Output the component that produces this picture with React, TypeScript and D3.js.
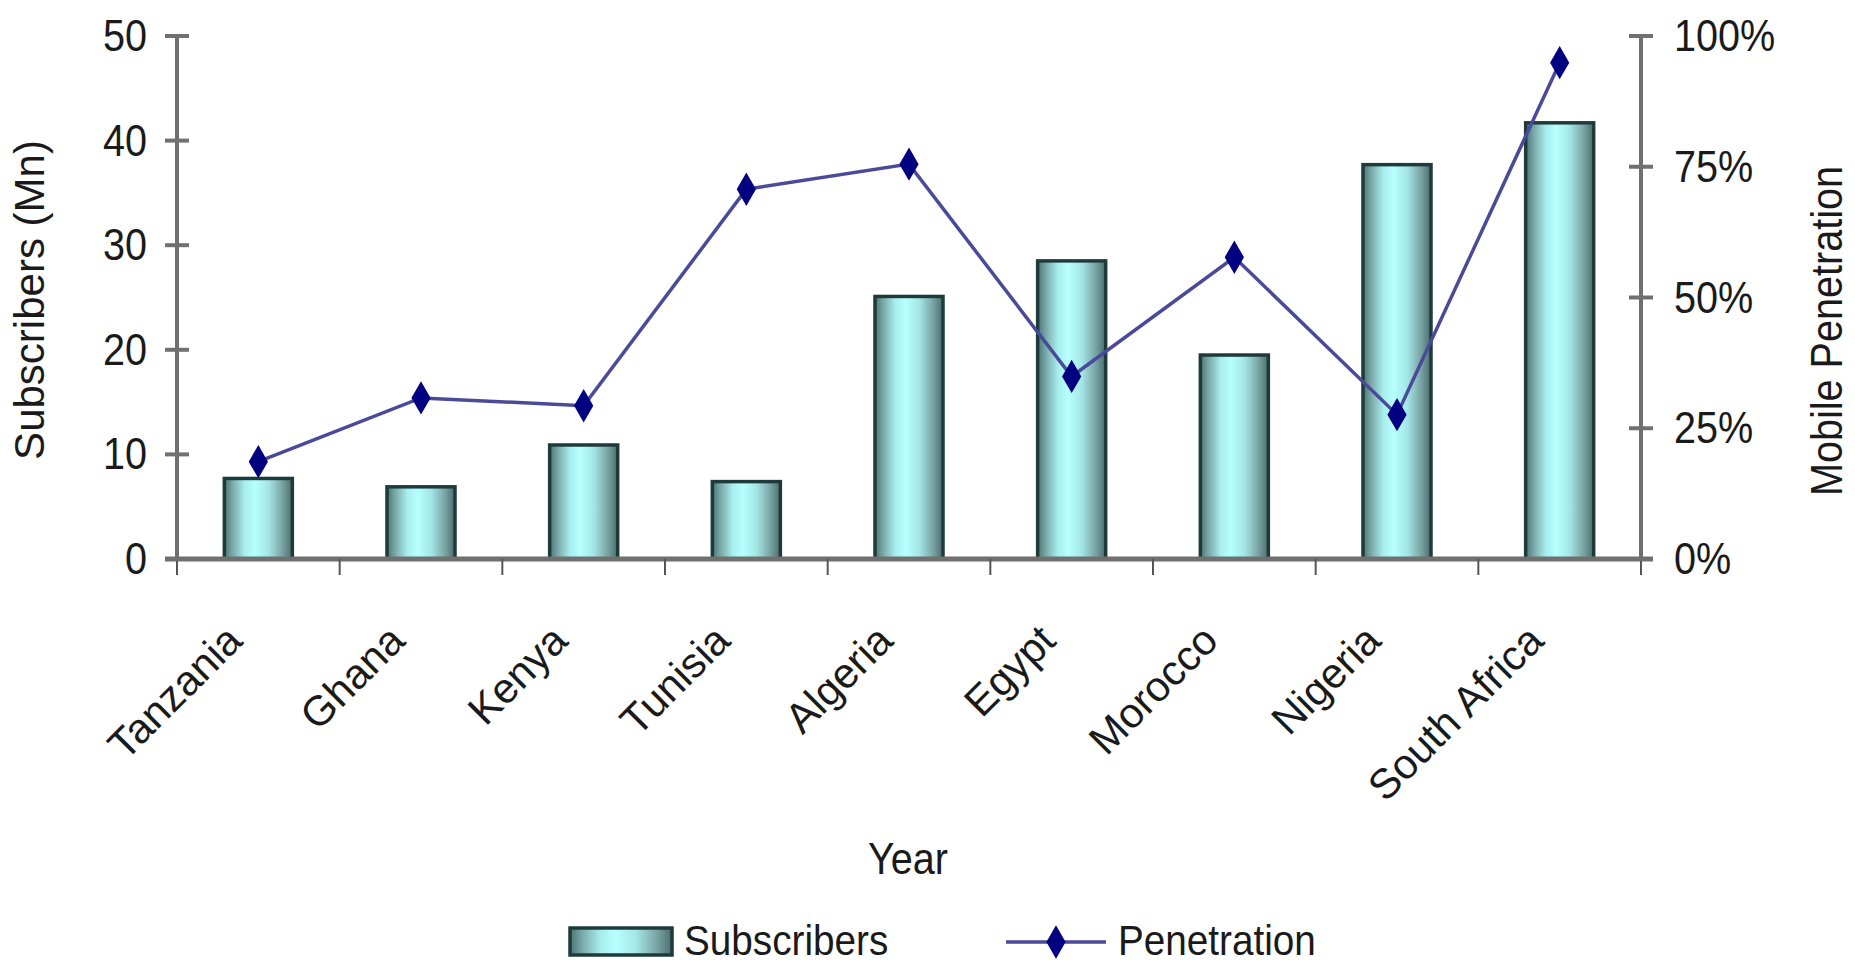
import React from "react";
import * as d3 from "d3";

const categories = ["Tanzania", "Ghana", "Kenya", "Tunisia", "Algeria", "Egypt", "Morocco", "Nigeria", "South Africa"];
const subscribers = [7.7, 6.9, 10.9, 7.4, 25.1, 28.5, 19.5, 37.7, 41.7];
const penetration = [18.6, 30.8, 29.3, 70.7, 75.5, 34.9, 57.7, 27.6, 94.9];
const leftTicks = [0, 10, 20, 30, 40, 50];
const rightTicks = [0, 25, 50, 75, 100];

const W = 1855;
const H = 966;
const left = 177;
const right = 1641;
const top = 36;
const bottom = 559;
const FONT = "'Liberation Sans', Arial, sans-serif";
const SX = 0.9;

function CText({ x, y, rot = 0, anchor = "start", size = 44, sx = SX, children }: any) {
  return (
    <text
      transform={`translate(${x},${y}) rotate(${rot}) scale(${sx},1)`}
      textAnchor={anchor}
      fontFamily={FONT}
      fontSize={size}
      fill="#1a1a1a"
    >
      {children}
    </text>
  );
}

export default function App() {
  const x = d3.scaleBand<string>().domain(categories).range([left, right]).paddingInner(0).paddingOuter(0);
  const yL = d3.scaleLinear().domain([0, 50]).range([bottom, top]);
  const yR = d3.scaleLinear().domain([0, 100]).range([bottom, top]);
  const bw = 68;
  const cx = (c: string) => (x(c) as number) + x.bandwidth() / 2;
  const line = d3
    .line<number>()
    .x((_, i) => cx(categories[i]))
    .y((d) => yR(d));
  const diamond = d3.symbol().type(d3.symbolDiamond).size(320)() as string;
  const axisColor = "#707070";

  return (
    <svg width={W} height={H} style={{ position: "absolute", left: 0, top: 0, background: "#fff" }}>
      <defs>
        <linearGradient id="barGrad" x1="0" x2="1" y1="0" y2="0">
          <stop offset="0" stopColor="#4a7474" />
          <stop offset="0.12" stopColor="#7aa8a8" />
          <stop offset="0.3" stopColor="#a8eeee" />
          <stop offset="0.45" stopColor="#b8ffff" />
          <stop offset="0.65" stopColor="#a4e6e6" />
          <stop offset="0.85" stopColor="#7aa4a4" />
          <stop offset="1" stopColor="#4a6e6e" />
        </linearGradient>
      </defs>

      {/* bars */}
      {categories.map((c, i) => (
        <rect
          key={c}
          x={cx(c) - bw / 2}
          y={yL(subscribers[i])}
          width={bw}
          height={yL(0) - yL(subscribers[i])}
          fill="url(#barGrad)"
          stroke="#1f3a3a"
          strokeWidth={3.5}
        />
      ))}

      {/* x axis */}
      <line x1={left - 12} x2={right + 12} y1={bottom} y2={bottom} stroke={axisColor} strokeWidth={5} />
      {d3.range(categories.length + 1).map((i) => {
        const xx = left + i * x.bandwidth();
        return <line key={i} x1={xx} x2={xx} y1={bottom} y2={bottom + 16} stroke="#555" strokeWidth={2} />;
      })}

      {/* left axis */}
      <line x1={left} x2={left} y1={top} y2={bottom} stroke={axisColor} strokeWidth={4} />
      {leftTicks.map((t) => (
        <g key={t}>
          <line x1={left - 12} x2={left + 12} y1={yL(t)} y2={yL(t)} stroke={axisColor} strokeWidth={4} />
          <CText x={left - 30} y={yL(t) + 15} anchor="end">{t}</CText>
        </g>
      ))}

      {/* right axis */}
      <line x1={right} x2={right} y1={top} y2={bottom} stroke={axisColor} strokeWidth={4} />
      {rightTicks.map((t) => (
        <g key={t}>
          <line x1={right - 12} x2={right + 12} y1={yR(t)} y2={yR(t)} stroke={axisColor} strokeWidth={4} />
          <CText x={right + 33} y={yR(t) + 15} anchor="start">{`${t}%`}</CText>
        </g>
      ))}

      {/* penetration line */}
      <path d={line(penetration) as string} fill="none" stroke="#4a4a9a" strokeWidth={3.5} />
      {penetration.map((p, i) => (
        <path key={i} d={diamond} transform={`translate(${cx(categories[i])},${yR(p)})`} fill="#000080" />
      ))}

      {/* category labels */}
      {categories.map((c) => (
        <CText key={c} x={cx(c) - 14} y={643} rot={-45} anchor="end" sx={1} size={42}>
          {c}
        </CText>
      ))}

      {/* axis titles */}
      <CText x={44} y={300} rot={-90} anchor="middle" sx={1} size={42}>Subscribers (Mn)</CText>
      <CText x={1842} y={331} rot={-90} anchor="middle" size={44}>Mobile Penetration</CText>
      <CText x={908} y={874} anchor="middle" size={44}>Year</CText>

      {/* legend */}
      <rect x={570} y={928} width={102} height={27} fill="url(#barGrad)" stroke="#1f3a3a" strokeWidth={3.5} />
      <CText x={684} y={955} anchor="start" size={43}>Subscribers</CText>
      <line x1={1006} x2={1106} y1={942} y2={942} stroke="#4a4a9a" strokeWidth={3.5} />
      <path d={diamond} transform={`translate(1056,942)`} fill="#000080" />
      <CText x={1118} y={955} anchor="start" size={43}>Penetration</CText>
    </svg>
  );
}
